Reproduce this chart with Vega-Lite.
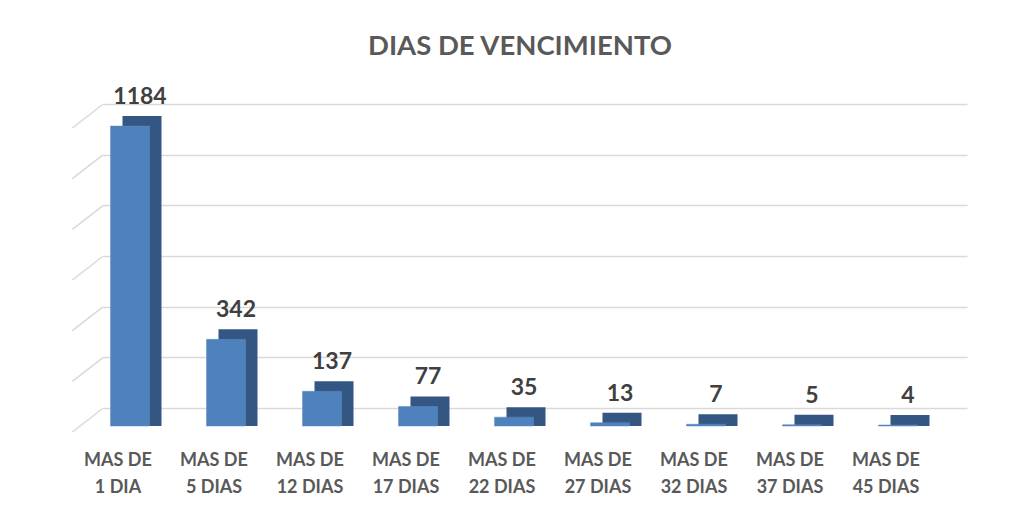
{
  "$schema": "https://vega.github.io/schema/vega-lite/v6.json",
  "width": 864,
  "height": 304,
  "autosize": "none",
  "padding": {"left": 103, "top": 104, "right": 56, "bottom": 108},
  "background": "white",
  "config": {"view": {"stroke": null}, "font": "Lato"},
  "title": {
    "text": "DIAS DE VENCIMIENTO",
    "font": "Lato",
    "fontSize": 27.5,
    "fontWeight": "bold",
    "color": "#595959",
    "anchor": "middle",
    "frame": "group",
    "baseline": "alphabetic",
    "dx": -15,
    "offset": 4
  },
  "datasets": {
    "bars": [
      {"cat": "MAS DE 1 DIA", "v": 1184},
      {"cat": "MAS DE 5 DIAS", "v": 342},
      {"cat": "MAS DE 12 DIAS", "v": 137},
      {"cat": "MAS DE 17 DIAS", "v": 77},
      {"cat": "MAS DE 22 DIAS", "v": 35},
      {"cat": "MAS DE 27 DIAS", "v": 13},
      {"cat": "MAS DE 32 DIAS", "v": 7},
      {"cat": "MAS DE 37 DIAS", "v": 5},
      {"cat": "MAS DE 45 DIAS", "v": 4}
    ],
    "grid": [{"t": 0}, {"t": 200}, {"t": 400}, {"t": 600}, {"t": 800}, {"t": 1000}, {"t": 1200}]
  },
  "layer": [
    {
      "data": {"name": "grid"},
      "mark": {"type": "rule", "color": "#d9d9d9", "strokeWidth": 1.5, "xOffset": -59, "x2Offset": -28, "yOffset": 24},
      "encoding": {
        "x": {"datum": "MAS DE 1 DIA", "bandPosition": 0, "type": "nominal", "scale": {"paddingInner": 0.59, "paddingOuter": 0.295}},
        "x2": {"datum": "MAS DE 1 DIA", "bandPosition": 0},
        "y": {"field": "t", "type": "quantitative"},
        "y2": {"field": "t"}
      }
    },
    {
      "data": {"name": "bars"},
      "mark": {"type": "bar", "width": 39, "color": "#335682", "xOffset": -9, "yOffset": 8, "y2Offset": 18},
      "encoding": {
        "x": {
          "field": "cat",
          "type": "nominal",
          "sort": null,
          "scale": {"paddingInner": 0.59, "paddingOuter": 0.295},
          "axis": {
            "title": null,
            "domain": false,
            "ticks": false,
            "labelAngle": 0,
            "labelAlign": "center",
            "labelFont": "Lato",
            "labelFontSize": 18,
            "labelFontWeight": "bold",
            "labelColor": "#595959",
            "labelPadding": 52,
            "labelOffset": -33,
            "labelLineHeight": 27,
            "labelLimit": 0,
            "labelOverlap": false,
            "labelExpr": "['MAS DE', slice(datum.label, 7)]"
          }
        },
        "y": {
          "field": "v",
          "type": "quantitative",
          "scale": {"domain": [0, 1200], "nice": false},
          "axis": {
            "title": null,
            "domain": false,
            "ticks": false,
            "labels": false,
            "values": [0, 200, 400, 600, 800, 1000, 1200],
            "gridColor": "#d9d9d9",
            "gridWidth": 1.5
          }
        },
        "y2": {"datum": 0}
      }
    },
    {
      "data": {"name": "bars"},
      "mark": {"type": "bar", "width": 39, "color": "#4f81bd", "stroke": "#5a8ac4", "strokeWidth": 0.5, "xOffset": -21, "yOffset": 18},
      "encoding": {
        "x": {"field": "cat", "type": "nominal", "sort": null},
        "y": {"field": "v", "type": "quantitative"}
      }
    },
    {
      "data": {"name": "bars"},
      "mark": {"type": "text", "font": "Lato", "fontSize": 23, "fontWeight": "bold", "color": "#404040", "baseline": "alphabetic", "xOffset": -11, "yOffset": -4},
      "encoding": {
        "x": {"field": "cat", "type": "nominal", "sort": null},
        "y": {"field": "v", "type": "quantitative"},
        "text": {"field": "v", "type": "quantitative"}
      }
    }
  ]
}
